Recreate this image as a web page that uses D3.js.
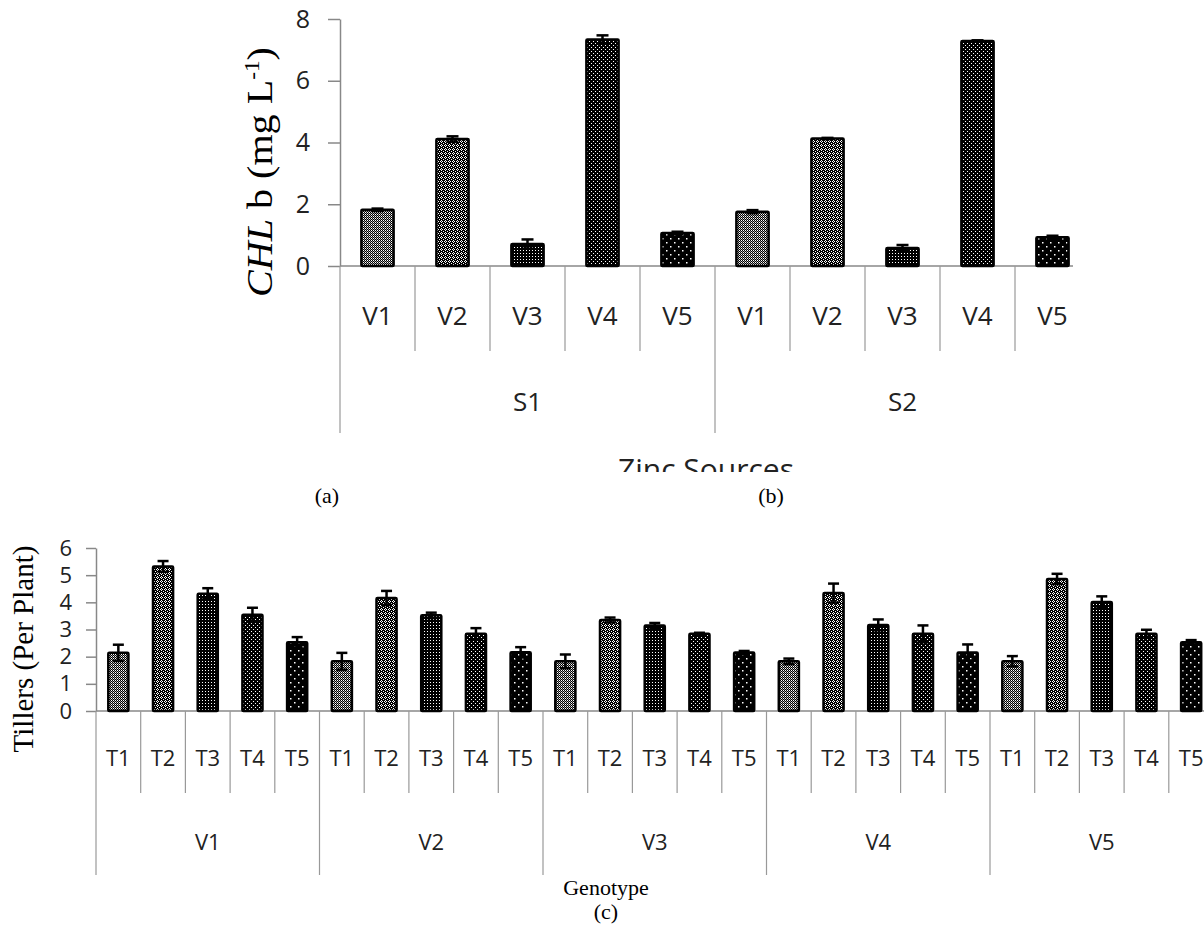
<!DOCTYPE html>
<html>
<head>
<meta charset="utf-8">
<script src="https://cdn.jsdelivr.net/npm/d3@7"></script>
<style>
    body { margin: 0; background: #fff; }
    svg { display: block; }
    .lbl { font-family: 'Open Sans', sans-serif; fill: #222; }
    .serif { font-family: 'Liberation Serif', 'Times New Roman', serif; fill: #000; }
</style>
</head>
<body>
<div id="chart"></div>
<script>
// chart (a)/(b): CHL b by zinc source and genotype
var chlGroups = ['S1', 'S2'];
var chlCats = ['V1', 'V2', 'V3', 'V4', 'V5'];
var chlValues = [1.82, 4.11, 0.71, 7.34, 1.07, 1.76, 4.13, 0.58, 7.29, 0.93];
var chlErrors = [0.04, 0.09, 0.15, 0.13, 0.04, 0.05, 0.02, 0.10, 0.02, 0.05];
var chlTicks = [0, 2, 4, 6, 8];

// chart (c): tillers by genotype and treatment
var tilGroups = ['V1', 'V2', 'V3', 'V4', 'V5'];
var tilCats = ['T1', 'T2', 'T3', 'T4', 'T5'];
var tilValues = [2.14, 5.32, 4.32, 3.54, 2.53,
                 1.83, 4.16, 3.52, 2.84, 2.16,
                 1.83, 3.35, 3.15, 2.84, 2.15,
                 1.83, 4.34, 3.17, 2.84, 2.15,
                 1.83, 4.86, 4.01, 2.84, 2.53];
var tilErrors = [0.30, 0.20, 0.20, 0.26, 0.19,
                 0.31, 0.26, 0.10, 0.21, 0.19,
                 0.25, 0.09, 0.09, 0.04, 0.06,
                 0.10, 0.35, 0.20, 0.31, 0.30,
                 0.19, 0.19, 0.21, 0.15, 0.08];
var tilTicks = [0, 1, 2, 3, 4, 5, 6];

var W = 1204, H = 938;
var svg = d3.select('#chart').append('svg').attr('width', W).attr('height', H);
var defs = svg.append('defs');

// fill patterns, one per category in the group
function addPattern(id, size, bg, dots) {
    var p = defs.append('pattern').attr('id', id)
        .attr('patternUnits', 'userSpaceOnUse')
        .attr('width', size).attr('height', size);
    p.append('rect').attr('width', size).attr('height', size).attr('fill', bg);
    dots.forEach(function(d) {
        p.append('rect').attr('x', d[0]).attr('y', d[1])
            .attr('width', d[2]).attr('height', d[2]).attr('fill', d[3] || '#fff');
    });
}
addPattern('p0', 2, '#000', [[1, 0, 1, '#fff'], [0, 1, 1, '#999']]);
addPattern('p1', 4, '#000', [[1, 0, 1], [0, 1, 1], [2, 1, 1], [1, 2, 1], [3, 3, 1]]);
addPattern('p2', 3, '#000', [[1, 1, 1]]);
addPattern('p3', 4, '#000', [[1, 1, 1], [3, 3, 1]]);
addPattern('p4', 8, '#000', [[2, 2, 1.5], [6, 6, 1.5]]);

defs.append('clipPath').attr('id', 'clipTop')
    .append('rect').attr('x', 0).attr('y', 0).attr('width', 1073).attr('height', 480);

function drawChart(g, o) {
    var n = o.groups.length * o.cats.length;
    var x = d3.scaleBand().domain(d3.range(n)).range([o.left, o.left + n * o.step])
        .paddingInner(o.pad).paddingOuter(o.pad / 2);
    var y = d3.scaleLinear().domain([0, o.ticks[o.ticks.length - 1]]).range([o.base, o.top]);

    // y axis
    var ya = g.append('g').attr('transform', 'translate(' + o.left + ',0)')
        .call(d3.axisLeft(y).tickValues(o.ticks).tickFormat(d3.format('d'))
            .tickSize(o.tick).tickPadding(o.tickPad).tickSizeOuter(0));
    ya.select('.domain').attr('stroke', '#888').attr('stroke-width', 1.5);
    ya.selectAll('.tick line').attr('stroke', '#888').attr('stroke-width', 1.5);
    ya.selectAll('.tick text').attr('class', 'lbl').style('font-size', o.tickFont + 'px')
        .attr('fill', '#222').style('font-family', "'Open Sans', sans-serif");

    // x axis line and category dividers
    g.append('line').attr('x1', o.left).attr('x2', o.left + n * o.step)
        .attr('y1', o.base).attr('y2', o.base).attr('stroke', '#888').attr('stroke-width', 1.5);
    d3.range(n + 1).forEach(function(i) {
        var xi = o.left + i * x.step();
        var outer = i % o.cats.length === 0;
        g.append('line').attr('x1', xi).attr('x2', xi)
            .attr('y1', o.base).attr('y2', outer ? o.groupLineEnd : o.catLineEnd)
            .attr('stroke', '#999').attr('stroke-width', 1.2);
    });

    d3.range(n).forEach(function(i) {
        g.append('text').attr('class', 'lbl')
            .attr('x', x(i) + x.bandwidth() / 2).attr('y', o.catLabelY)
            .attr('text-anchor', 'middle').style('font-size', o.catFont + 'px')
            .text(o.cats[i % o.cats.length]);
    });
    o.groups.forEach(function(name, j) {
        var gw = o.cats.length * x.step();
        g.append('text').attr('class', 'lbl')
            .attr('x', o.left + j * gw + gw / 2).attr('y', o.groupLabelY)
            .attr('text-anchor', 'middle').style('font-size', o.catFont + 'px')
            .text(name);
    });

    // bars
    g.selectAll('rect.bar').data(o.values).enter().append('rect')
        .attr('class', 'bar')
        .attr('x', function(d, i) { return x(i); })
        .attr('y', function(d) { return y(d); })
        .attr('width', x.bandwidth())
        .attr('height', function(d) { return y(0) - y(d); })
        .attr('fill', function(d, i) { return 'url(#p' + (i % o.cats.length) + ')'; })
        .attr('stroke', '#000').attr('stroke-width', 2.5).attr('rx', 1);

    // error bars
    o.values.forEach(function(d, i) {
        var cx = x(i) + x.bandwidth() / 2, e = o.errors[i];
        g.append('line').attr('x1', cx).attr('x2', cx)
            .attr('y1', y(d + e)).attr('y2', y(d - e))
            .attr('stroke', '#000').attr('stroke-width', 2.5);
        [d + e, d - e].forEach(function(v) {
            g.append('line').attr('x1', cx - o.cap / 2).attr('x2', cx + o.cap / 2)
                .attr('y1', y(v)).attr('y2', y(v))
                .attr('stroke', '#000').attr('stroke-width', 2.5);
        });
    });
}

var topChart = svg.append('g').attr('clip-path', 'url(#clipTop)');
drawChart(topChart, {
    groups: chlGroups, cats: chlCats, values: chlValues, errors: chlErrors, ticks: chlTicks,
    left: 340, step: 75, pad: 0.57, base: 266, top: 19,
    tick: 12, tickPad: 18, tickFont: 25, catFont: 26, cap: 12,
    catLabelY: 325, groupLabelY: 411, catLineEnd: 351, groupLineEnd: 433
});

var bottomChart = svg.append('g');
drawChart(bottomChart, {
    groups: tilGroups, cats: tilCats, values: tilValues, errors: tilErrors, ticks: tilTicks,
    left: 96, step: 44.7, pad: 0.55, base: 711, top: 548,
    tick: 10, tickPad: 14, tickFont: 22, catFont: 22, cap: 11,
    catLabelY: 766, groupLabelY: 850, catLineEnd: 793, groupLineEnd: 875
});

// axis titles
var t1 = svg.append('text').attr('class', 'serif')
    .attr('transform', 'translate(272,172) rotate(-90)')
    .attr('text-anchor', 'middle').style('font-size', '36px')
    .attr('textLength', 250).attr('lengthAdjust', 'spacingAndGlyphs');
t1.append('tspan').style('font-style', 'italic').text('CHL');
t1.append('tspan').text(' b  (mg L');
t1.append('tspan').attr('dy', -13).style('font-size', '21px').text('-1');
t1.append('tspan').attr('dy', 13).text(')');

svg.append('text').attr('class', 'serif')
    .attr('transform', 'translate(33,649) rotate(-90)')
    .attr('text-anchor', 'middle').style('font-size', '29px')
    .text('Tillers (Per Plant)');

svg.append('text').attr('class', 'lbl')
    .attr('x', 706).attr('y', 480).attr('text-anchor', 'middle')
    .style('font-size', '30px').attr('fill', '#333').text('Zinc Sources');
// the source figure cuts the title through the middle
svg.append('rect').attr('x', 560).attr('y', 472).attr('width', 300).attr('height', 12).attr('fill', '#fff');

svg.append('text').attr('class', 'serif').attr('x', 327).attr('y', 503)
    .attr('text-anchor', 'middle').style('font-size', '22px').text('(a)');
svg.append('text').attr('class', 'serif').attr('x', 771).attr('y', 503)
    .attr('text-anchor', 'middle').style('font-size', '22px').text('(b)');
svg.append('text').attr('class', 'serif').attr('x', 606).attr('y', 895)
    .attr('text-anchor', 'middle').style('font-size', '22px').text('Genotype');
svg.append('text').attr('class', 'serif').attr('x', 606).attr('y', 919)
    .attr('text-anchor', 'middle').style('font-size', '22px').text('(c)');
</script>
</body>
</html>
